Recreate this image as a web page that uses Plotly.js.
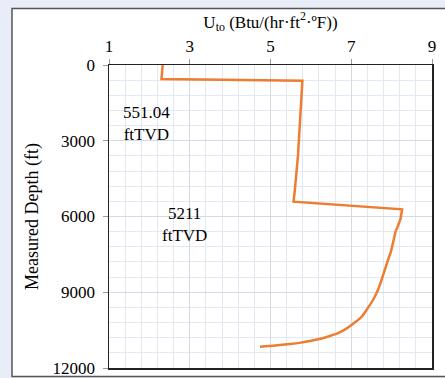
<!DOCTYPE html>
<html>
<head>
<meta charset="utf-8">
<script src="https://cdn.plot.ly/plotly-3.0.1.min.js"></script>
<style>html,body{margin:0;padding:0;background:#E9EDF7;}#chart{width:445px;height:378px;}</style>
</head>
<body>
<div id="chart"></div>
<script>
// U_to values (Btu/(hr·ft²·°F)) and measured depth (ft)
const uto = [2.33, 2.31, 2.30, 5.79, 5.75, 5.68, 5.60, 5.57,
             8.26, 8.22, 8.13, 8.10, 8.04, 7.98, 7.91, 7.83, 7.75, 7.66, 7.54, 7.40, 7.26, 7.07,
             6.89, 6.70, 6.47, 6.24, 5.98, 5.75, 5.48, 5.12, 4.74];
const depth = [0, 400, 551, 620, 1800, 3600, 5000, 5413,
               5715, 6100, 6480, 6560, 7000, 7400, 7723, 8119, 8515, 8911, 9307, 9650, 9967, 10220,
               10429, 10600, 10733, 10840, 10931, 10995, 11050, 11110, 11155];
const xTicks = [1, 3, 5, 7, 9];
const yTicks = [0, 3000, 6000, 9000, 12000];
const noteText = ["551.04<br>ftTVD", "5211<br>ftTVD"];
const noteU = [1.94, 2.88];
const noteDepth = [2330, 6330];

const serif = "Liberation Serif, Times New Roman, serif";
const split = 11; // stepped part drawn straight, lower part smoothed
const lineStyle = {color: "#ED7D31", width: 2.5};
const traces = [
  {x: uto.slice(0, split + 1), y: depth.slice(0, split + 1), type: "scatter", mode: "lines",
   line: Object.assign({}, lineStyle), hoverinfo: "skip"},
  {x: uto.slice(split), y: depth.slice(split), type: "scatter", mode: "lines",
   line: Object.assign({shape: "spline", smoothing: 0.8}, lineStyle), hoverinfo: "skip"}
];

const annotations = noteText.map((t, i) => ({
  x: noteU[i], y: noteDepth[i], xref: "x", yref: "y", text: t, showarrow: false,
  font: {family: serif, size: 17, color: "#000"}, align: "center"
}));

const layout = {
  width: 445, height: 378,
  margin: {l: 109, r: 13, t: 65, b: 10},
  paper_bgcolor: "#E9EDF7", plot_bgcolor: "#FFFFFF",
  showlegend: false,
  font: {family: serif, size: 17, color: "#000"},
  xaxis: {
    side: "top", range: [1, 9], tickvals: xTicks, ticktext: xTicks.map(String),
    ticks: "outside", ticklen: 5, tickcolor: "#999",
    showline: true, mirror: true, linecolor: "#222", linewidth: 1.5,
    showgrid: true, gridcolor: "#D3DAE3", gridwidth: 1, zeroline: false,
    minor: {dtick: 0.4, tick0: 1, showgrid: true, gridcolor: "#E2E9F2", gridwidth: 1, ticks: ""},
    tickfont: {family: serif, size: 17, color: "#000"},
    title: {text: "U<sub>to</sub> (Btu/(hr·ft<sup>2</sup>·ºF))", font: {family: serif, size: 17, color: "#000"}, standoff: 4}
  },
  yaxis: {
    range: [12000, 0], tickvals: yTicks, ticktext: yTicks.map(String),
    ticks: "outside", ticklen: 5, tickcolor: "#999",
    showline: true, mirror: true, linecolor: "#222", linewidth: 1.5,
    showgrid: true, gridcolor: "#D3DAE3", gridwidth: 1, zeroline: false,
    minor: {dtick: 600, tick0: 0, showgrid: true, gridcolor: "#E2E9F2", gridwidth: 1, ticks: ""},
    tickfont: {family: serif, size: 17, color: "#000"},
    ticklabelstandoff: 4,
    title: {text: "Measured Depth (ft)", font: {family: serif, size: 18, color: "#000"}, standoff: 9}
  },
  annotations: annotations,
  shapes: [
    {type: "rect", xref: "paper", yref: "paper", layer: "below",
     x0: (12 - 109) / 323, x1: (460 - 109) / 323,
     y0: (368 - 376.5) / 303, y1: (368 - 8.5) / 303,
     fillcolor: "#FFFFFF", line: {color: "#555", width: 1.5}}
  ]
};

Plotly.newPlot("chart", traces, layout, {staticPlot: true, displayModeBar: false});
</script>
</body>
</html>
